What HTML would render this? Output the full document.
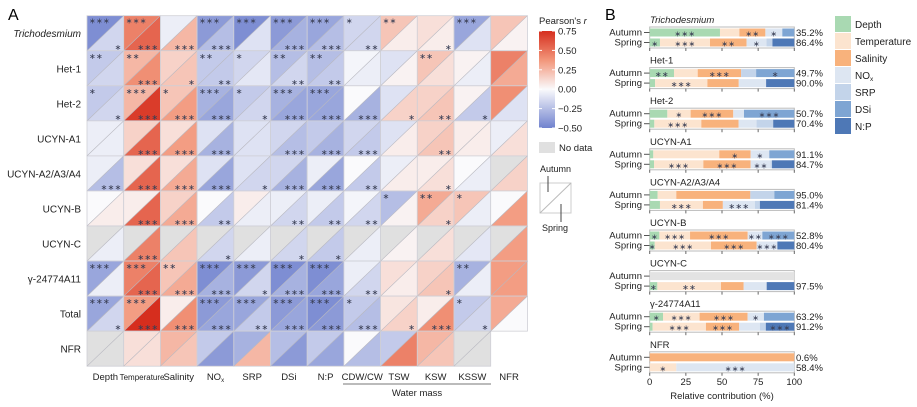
<!DOCTYPE html>
<html><head><meta charset="utf-8">
<style>
html,body{margin:0;padding:0;background:#fff;}
svg{display:block;font-family:"Liberation Sans",Arial,sans-serif;}
</style></head>
<body>
<svg id="fig" width="917" height="407" viewBox="0 0 917 407" xmlns="http://www.w3.org/2000/svg">
<g id="pa"></g>
<g id="pb"></g>
</svg>
<script>
// ---------- Panel A data ----------
const rowLabels = ["Trichodesmium","Het-1","Het-2","UCYN-A1","UCYN-A2/A3/A4","UCYN-B","UCYN-C","γ-24774A11","Total","NFR"];
const colLabels = ["Depth","Temperature","Salinity","NOx","SRP","DSi","N:P","CDW/CW","TSW","KSW","KSSW","NFR"];
const autumnR = [
[-0.45,0.45,-0.05,-0.4,-0.45,-0.4,-0.35,-0.15,0.2,0.1,-0.35,0.2],
[-0.2,0.25,0.15,-0.2,-0.15,-0.25,-0.25,-0.02,-0.1,0.2,0.03,0.45],
[-0.2,0.25,0.2,-0.3,-0.2,-0.3,-0.35,0.0,-0.1,0.15,0.03,0.4],
[-0.05,0.15,0.1,-0.1,-0.1,-0.15,-0.2,-0.15,-0.1,0.15,0.05,-0.05],
[-0.05,0.1,0.1,-0.1,-0.1,-0.15,-0.05,0.0,-0.05,0.05,0.0,null],
[0.0,0.05,0.15,0.0,0.05,-0.05,-0.05,-0.02,-0.25,0.3,0.2,0.0],
[null,null,null,null,null,null,null,null,null,null,null,null],
[-0.35,0.45,0.2,-0.45,-0.4,-0.45,-0.45,-0.05,0.1,0.15,-0.3,0.35],
[-0.35,0.35,0.05,-0.4,-0.35,-0.4,-0.45,-0.2,0.08,0.05,-0.2,0.3],
[null,0.1,0.25,-0.2,-0.3,-0.25,-0.2,0.0,-0.2,0.25,null,"x"]];
const springR = [
[-0.15,0.55,0.25,-0.25,-0.1,-0.3,-0.25,-0.15,0.05,0.05,-0.1,0.03],
[-0.15,0.4,0.2,-0.2,-0.08,-0.15,-0.2,-0.05,0.03,0.1,-0.05,0.3],
[-0.15,0.7,0.35,-0.35,-0.15,-0.35,-0.35,-0.3,0.15,0.2,-0.2,-0.1],
[-0.05,0.55,0.35,-0.3,-0.1,-0.25,-0.3,-0.2,0.05,0.2,0.05,0.1],
[-0.25,0.55,0.3,-0.35,-0.15,-0.3,-0.35,-0.2,0.05,0.1,-0.05,0.15],
[0.05,0.55,0.3,-0.2,-0.05,-0.15,-0.2,-0.15,0.03,0.15,-0.05,0.35],
[-0.05,0.45,0.2,-0.15,-0.05,-0.15,-0.2,-0.05,0.03,0.1,-0.08,0.35],
[-0.05,0.55,0.3,-0.3,-0.15,-0.3,-0.35,-0.15,0.05,0.2,-0.05,0.35],
[-0.15,0.75,0.4,-0.35,-0.2,-0.35,-0.4,-0.25,0.15,0.4,-0.15,0.0],
[null,0.1,0.2,-0.4,0.25,-0.4,-0.35,-0.25,0.45,0.2,null,"x"]];
const autumnSig = [
[3,3,0,3,3,3,3,1,2,0,3,0],[2,2,0,2,1,2,2,0,0,2,0,0],[1,3,1,3,1,3,3,0,0,0,0,0],
[0,0,0,0,0,0,0,0,0,0,0,0],[0,0,0,0,0,0,0,0,0,0,0,0],[0,0,0,0,0,0,0,0,1,2,1,0],
[0,0,0,0,0,0,0,0,0,0,0,0],[3,3,2,3,3,3,3,0,0,0,2,0],[3,3,0,3,3,3,3,1,0,0,1,0],
[0,0,0,0,0,0,0,0,0,0,0,0]];
const springSig = [
[1,3,3,3,0,3,3,2,0,1,0,0],[0,3,1,2,0,2,2,0,0,0,0,0],[1,3,3,3,1,3,3,3,1,2,1,0],
[0,3,3,3,0,3,3,3,0,2,0,0],[3,3,3,3,1,3,3,2,0,1,0,0],[0,3,3,2,0,2,2,2,0,1,0,0],
[0,3,0,1,0,1,1,0,0,0,0,0],[0,3,3,3,1,3,3,2,0,1,0,0],[1,3,3,3,2,3,3,3,1,3,1,0],
[0,0,0,0,0,0,0,0,0,0,0,0]];
const cbTicks = [0.75,0.5,0.25,0,-0.25,-0.5];

// ---------- Panel B data ----------
const groups = ["Trichodesmium","Het-1","Het-2","UCYN-A1","UCYN-A2/A3/A4","UCYN-B","UCYN-C","γ-24774A11","NFR"];
const factors = ["Depth","Temperature","Salinity","NOx","SRP","DSi","N:P"];
const autumnContrib = [
[48.6,13.4,18,11.7,0,8.3,0],[16.8,16.4,30,0,10.4,26.5,0],[12.2,16.1,29.5,7.4,0,34.8,0],
[2.5,45.6,21.7,12.9,0,17.3,0],[5.5,12.9,51.2,0,16.6,13.8,0],[6.7,21.2,39.9,10.1,0,22.1,0],
null,[9.2,25.3,33.2,11.3,0,21,0],[0,0,100,0,0,0,0]];
const springContrib = [
[7.1,34.6,25.3,13.8,4.1,0,15.1],[3.7,36.2,21.7,18.9,0,0,19.5],[3.2,32.5,25.8,12.4,11.5,0,14.6],
[3,34.1,32.7,13.8,1,0,15.4],[7.1,29.7,13.8,22.1,3.5,0,23.8],[3.5,38.9,31.6,14.3,0,0,11.7],
[5.3,44,15.7,15.9,0,0,19.1],[2,36.9,23,14.3,4.1,0,19.7],[0,18.4,0,81.6,0,0,0]];
const autumnStars = [
[3,0,2,1,0,0,0],[2,0,3,0,0,1,0],[0,1,3,0,0,3,0],[0,0,1,1,0,0,0],[0,0,0,0,0,0,0],
[1,3,3,2,0,3,0],null,[1,3,3,1,0,0,0],[0,0,0,0,0,0,0]];
const springStars = [
[1,3,2,1,0,0,0],[0,3,0,0,0,0,0],[0,3,0,0,0,0,0],[0,3,3,2,0,0,0],[0,3,0,3,0,0,0],
[1,3,3,3,0,0,0],[1,2,0,0,0,0,0],[0,3,3,0,0,0,3],[0,1,0,3,0,0,0]];
const autumnPct = ["35.2%","49.7%","50.7%","91.1%","95.0%","52.8%","","63.2%","0.6%"];
const springPct = ["86.4%","90.0%","70.4%","84.7%","81.4%","80.4%","97.5%","91.2%","58.4%"];
const xTicks = [0,25,50,75,100];

const NS="http://www.w3.org/2000/svg";
function mk(parent,tag,attrs,text){const e=document.createElementNS(NS,tag);for(const k in attrs)e.setAttribute(k,attrs[k]);if(text!==undefined)e.textContent=text;parent.appendChild(e);return e;}
function lerp(a,b,t){return a.map((v,i)=>Math.round(v+(b[i]-v)*t));}
function rgb(c){return "rgb("+c.join(",")+")";}
function color(v){
  if(v===null) return "#e0e0e0";
  const W=[250,250,252],B=[112,130,206],R1=[242,150,122],R2=[214,46,30];
  if(v<0){return rgb(lerp(W,B,Math.min(1,-v/0.5)));}
  if(v<=0.375) return rgb(lerp(W,R1,v/0.375));
  return rgb(lerp(R1,R2,Math.min(1,(v-0.375)/0.375)));
}
function stars(n){return Array(n).fill('∗').join('');}
// ---------- Panel A ----------
const pa=document.getElementById('pa');
let t=mk(pa,'text',{x:8,y:20,'font-size':16},'A');


const x0=87,y0=15.7,cw=36.7,ch=35.05;
const xA=i=>x0+i*cw, yA=j=>y0+j*ch;
for(let r=0;r<rowLabels.length;r++){
  for(let c=0;c<colLabels.length;c++){
    const a=autumnR[r][c], s=springR[r][c];
    if(a==="x") continue;
    const X=xA(c),Y=yA(r);
    const g=mk(pa,'g',{});
    
    
    const pu=mk(g,'polygon',{points:`${X},${Y} ${X+cw},${Y} ${X},${Y+ch}`,fill:color(a)});
    
    
    const pl=mk(g,'polygon',{points:`${X+cw},${Y} ${X+cw},${Y+ch} ${X},${Y+ch}`,fill:color(s)});
    
    
    mk(g,'rect',{x:X,y:Y,width:cw,height:ch,fill:'none',stroke:'#cfcfd6','stroke-width':0.8});
    mk(g,'line',{x1:X,y1:Y+ch,x2:X+cw,y2:Y,stroke:'#b8b8c0','stroke-width':0.6});
    const sa=autumnSig[r][c], ss=springSig[r][c];
    if(sa){const st=mk(g,'text',{x:X+2,y:Y+8,'font-size':8,fill:'#3a3f55','letter-spacing':'0.3'},stars(sa));
      
      }
    if(ss){const st=mk(g,'text',{x:X+cw-2,y:Y+ch-1,'font-size':8,fill:'#3a3f55','text-anchor':'end','letter-spacing':'0.3'},stars(ss));
      
      }
  }
  const lt=mk(pa,'text',{x:81,y:yA(r)+ch/2+4,'font-size':10,'text-anchor':'end',fill:'#222','font-style':r===0?'italic':'normal'},rowLabels[r]);
  
  
}
colLabels.forEach((l,c)=>{
  const tx=mk(pa,'text',{x:xA(c)+cw/2,y:380,'font-size':l==="Temperature"?8:9.5,'text-anchor':'middle',fill:'#222'});
  
  
  if(l==="NOx"){tx.textContent="NO";mk(tx,'tspan',{'font-size':6,dy:2},'x');}else tx.textContent=l;
});
mk(pa,'line',{x1:343,y1:384,x2:491,y2:384,stroke:'#777','stroke-width':1});
t=mk(pa,'text',{x:417,y:396,'font-size':9.5,'text-anchor':'middle',fill:'#222'},'Water mass');


// colorbar
const defs=mk(pa,'defs',{});
const lg=mk(defs,'linearGradient',{id:'cbg',x1:0,y1:1,x2:0,y2:0});
for(let k=0;k<=10;k++){const v=-0.5+1.25*k/10;mk(lg,'stop',{offset:(k*10)+'%','stop-color':color(v)});}
const cbTop=31,cbBot=128,cbY=v=>cbBot-(v+0.5)/1.25*(cbBot-cbTop);
t=mk(pa,'text',{x:539,y:24,'font-size':9.5,fill:'#222'},"Pearson's ");mk(t,'tspan',{'font-style':'italic'},'r');


const cb=mk(pa,'rect',{x:539,y:cbTop,width:16,height:cbBot-cbTop,fill:'url(#cbg)'});


cbTicks.forEach(v=>{const y=cbY(v);
  mk(pa,'line',{x1:539,y1:y,x2:542,y2:y,stroke:'#fff'});mk(pa,'line',{x1:552,y1:y,x2:555,y2:y,stroke:'#fff'});
  const tt=mk(pa,'text',{x:558,y:y+3.5,'font-size':9.5,fill:'#222'},(v<0?'−':'')+Math.abs(v).toFixed(2));
  
  });
t=mk(pa,'rect',{x:539,y:142,width:16,height:11,fill:'#e0e0e0'});

t=mk(pa,'text',{x:559,y:151,'font-size':9.5,fill:'#222'},'No data');

t=mk(pa,'text',{x:540,y:172,'font-size':9,fill:'#222'},'Autumn');

t=mk(pa,'rect',{x:540,y:183,width:31,height:30,fill:'#fff',stroke:'#ccc'});

mk(pa,'line',{x1:540,y1:213,x2:571,y2:183,stroke:'#bbb'});
mk(pa,'line',{x1:548,y1:176,x2:548,y2:192,stroke:'#444'});
mk(pa,'line',{x1:561,y1:204,x2:561,y2:222,stroke:'#444'});
t=mk(pa,'text',{x:542,y:231,'font-size':9,fill:'#222'},'Spring');


// ---------- Panel B ----------
const pb=document.getElementById('pb');
const fColors=["#a9d9b2","#fce4cf","#f8b27c","#dde6f2","#c3d4ea","#7ea5d3","#4e78b6"];
t=mk(pb,'text',{x:605,y:20,'font-size':16},'B');

const bx0=649.7,bx1=794.3,xB=v=>bx0+(bx1-bx0)*v/100;
const gTop=i=>27+i*40.6;
groups.forEach((gname,i)=>{
  const top=gTop(i);
  const gt=mk(pb,'text',{x:650,y:top-4,'font-size':9.5,fill:'#222','font-style':i===0?'italic':'normal'},gname);
  
  mk(pb,'rect',{x:bx0,y:top,width:bx1-bx0,height:21,fill:'#fff',stroke:'#bbb','stroke-width':1});
  [[autumnContrib[i],autumnStars[i],top+1.5,'Autumn',autumnPct[i]],[springContrib[i],springStars[i],top+11.5,'Spring',springPct[i]]].forEach(([vals,st,y,lab,pct])=>{
    const lt=mk(pb,'text',{x:642,y:y+7,'font-size':9.5,'text-anchor':'end',fill:'#222'},lab);
    
    mk(pb,'line',{x1:644,y1:y+4,x2:bx0,y2:y+4,stroke:'#555'});
    if(!vals){const nd=mk(pb,'rect',{x:bx0,y:y,width:bx1-bx0,height:8,fill:'#e3e3e3'});
      }
    else{let acc=0;vals.forEach((v,k)=>{if(v<=0)return;
      const r=mk(pb,'rect',{x:xB(acc),y:y,width:xB(acc+v)-xB(acc),height:8,fill:fColors[k]});
      
      if(st[k]){const s2=mk(pb,'text',{x:xB(acc+v/2),y:y+8,'font-size':8,'text-anchor':'middle',fill:'#3a3f55','letter-spacing':'0.3'},stars(st[k]));
        }
      acc+=v;});}
    if(pct){const pt=mk(pb,'text',{x:796,y:y+7.5,'font-size':9.5,fill:'#222'},pct);
      }
  });
  xTicks.forEach(v=>mk(pb,'line',{x1:xB(v),y1:top+21,x2:xB(v),y2:top+24,stroke:'#666'}));
});
const lastB=gTop(groups.length-1)+21;
xTicks.forEach(v=>{const tt=mk(pb,'text',{x:xB(v),y:lastB+12,'font-size':9.5,'text-anchor':'middle',fill:'#222'},String(v));
  });
t=mk(pb,'text',{x:722,y:lastB+26,'font-size':9.5,'text-anchor':'middle',fill:'#222'},'Relative contribution (%)');

factors.forEach((f,k)=>{const y=16+k*17;
  const sw=mk(pb,'rect',{x:835,y:y,width:16,height:16,fill:fColors[k]});
  
  const lt=mk(pb,'text',{x:855,y:y+12,'font-size':10,fill:'#222'});
  
  if(f==="NOx"){lt.textContent="NO";mk(lt,'tspan',{'font-size':6.5,dy:2},'x');}else lt.textContent=f;
});
</script>
</body></html>
